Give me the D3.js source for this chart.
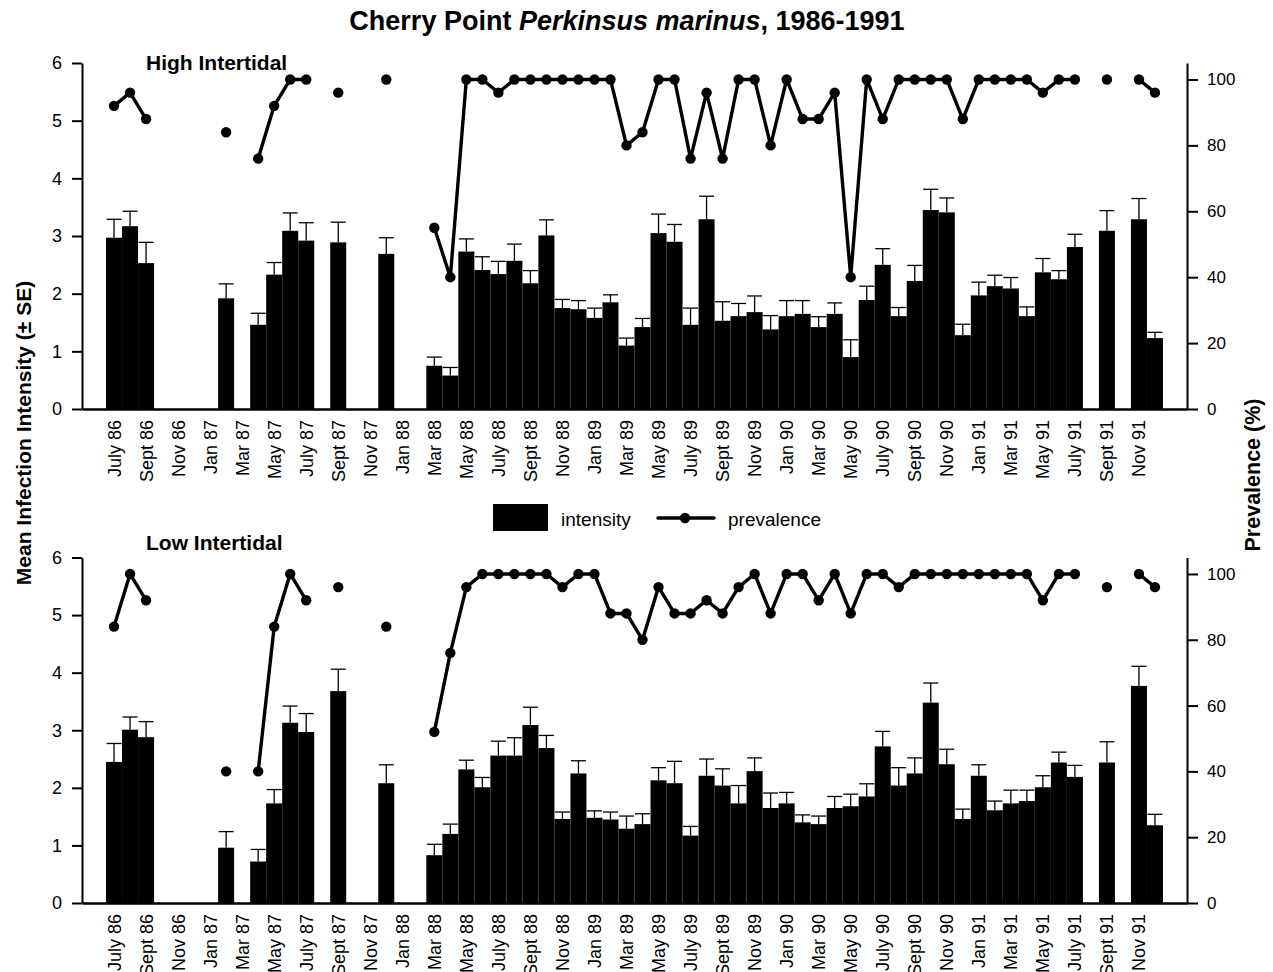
<!DOCTYPE html>
<html>
<head>
<meta charset="utf-8">
<script src="https://cdn.jsdelivr.net/npm/d3@7"></script>
<style>
  body { margin: 0; background: #fff; }
  svg { display: block; font-family: "Liberation Sans", Arial, sans-serif; }
</style>
</head>
<body>
<svg id="chart" width="1273" height="972"></svg>
<script>
// ---------- DATA ----------
const monthLabels = [
  "July 86","Aug 86","Sept 86","Oct 86","Nov 86","Dec 86",
  "Jan 87","Feb 87","Mar 87","Apr 87","May 87","June 87","July 87","Aug 87","Sept 87","Oct 87","Nov 87","Dec 87",
  "Jan 88","Feb 88","Mar 88","Apr 88","May 88","June 88","July 88","Aug 88","Sept 88","Oct 88","Nov 88","Dec 88",
  "Jan 89","Feb 89","Mar 89","Apr 89","May 89","June 89","July 89","Aug 89","Sept 89","Oct 89","Nov 89","Dec 89",
  "Jan 90","Feb 90","Mar 90","Apr 90","May 90","June 90","July 90","Aug 90","Sept 90","Oct 90","Nov 90","Dec 90",
  "Jan 91","Feb 91","Mar 91","Apr 91","May 91","June 91","July 91","Aug 91","Sept 91","Oct 91","Nov 91","Dec 91"
];
// tick labels: every second month starting July 86
const tickLabels = monthLabels.filter((d, i) => i % 2 === 0);

const N = null;
// High intertidal
const highIntensity = [
  2.97,3.17,2.53,N,N,N, N,1.92,N,1.46,2.33,3.09,2.92,N,2.89,N,N,2.69,
  N,N,0.75,0.58,2.73,2.41,2.34,2.57,2.18,3.01,1.75,1.73,
  1.58,1.85,1.10,1.42,3.05,2.90,1.46,3.29,1.53,1.61,1.68,1.38,
  1.61,1.65,1.42,1.65,0.90,1.89,2.50,1.61,2.22,3.45,3.41,1.28,
  1.97,2.13,2.09,1.61,2.37,2.25,2.81,N,3.09,N,3.29,1.23
];
const highSE = [
  0.32,0.26,0.36,N,N,N, N,0.25,N,0.20,0.21,0.31,0.31,N,0.35,N,N,0.28,
  N,N,0.15,0.14,0.22,0.23,0.22,0.29,0.22,0.27,0.15,0.15,
  0.17,0.13,0.13,0.15,0.33,0.30,0.29,0.40,0.33,0.22,0.28,0.24,
  0.27,0.23,0.18,0.19,0.30,0.24,0.28,0.15,0.27,0.36,0.25,0.19,
  0.23,0.19,0.19,0.16,0.24,0.15,0.22,N,0.35,N,0.36,0.10
];
const highPrevalence = [
  92,96,88,N,N,N, N,84,N,76,92,100,100,N,96,N,N,100,
  N,N,55,40,100,100,96,100,100,100,100,100,
  100,100,80,84,100,100,76,96,76,100,100,80,
  100,88,88,96,40,100,88,100,100,100,100,88,
  100,100,100,100,96,100,100,N,100,N,100,96
];
// Low intertidal
const lowIntensity = [
  2.45,3.01,2.88,N,N,N, N,0.96,N,0.72,1.73,3.13,2.97,N,3.68,N,N,2.08,
  N,N,0.83,1.20,2.32,2.01,2.56,2.56,3.09,2.69,1.46,2.25,
  1.48,1.45,1.29,1.37,2.13,2.08,1.17,2.21,2.04,1.73,2.29,1.65,
  1.73,1.40,1.37,1.65,1.68,1.85,2.72,2.04,2.25,3.48,2.41,1.46,
  2.21,1.61,1.73,1.77,2.01,2.44,2.19,N,2.44,N,3.77,1.35
];
const lowSE = [
  0.32,0.22,0.27,N,N,N, N,0.28,N,0.21,0.24,0.29,0.32,N,0.38,N,N,0.32,
  N,N,0.19,0.17,0.16,0.17,0.25,0.31,0.31,0.22,0.12,0.22,
  0.12,0.13,0.22,0.18,0.22,0.38,0.16,0.29,0.29,0.31,0.23,0.26,
  0.19,0.13,0.14,0.20,0.21,0.22,0.26,0.31,0.27,0.34,0.26,0.17,
  0.19,0.16,0.23,0.19,0.20,0.18,0.20,N,0.36,N,0.34,0.19
];
const lowPrevalence = [
  84,100,92,N,N,N, N,40,N,40,84,100,92,N,96,N,N,84,
  N,N,52,76,96,100,100,100,100,100,96,100,
  100,88,88,80,96,88,88,92,88,96,100,88,
  100,100,92,100,88,100,100,96,100,100,100,100,
  100,100,100,100,92,100,100,N,96,N,100,96
];
const intensityTicks = [0,1,2,3,4,5,6];
const prevalenceTicks = [0,20,40,60,80,100];

// ---------- LAYOUT ----------
const svg = d3.select("#chart");
const FONT = '"Liberation Sans", Arial, sans-serif';
const xLeft = 82, xRight = 1187;

const x = d3.scaleBand().domain(monthLabels).range([xLeft, xRight])
  .paddingInner(0).paddingOuter(1.5);

function panel(cfg) {
  const g = svg.append("g");
  const yL = d3.scaleLinear().domain([0, 6]).range([cfg.bottom, cfg.top]);
  const yR = d3.scaleLinear().domain([0, 105]).range([cfg.bottom, cfg.top]);

  const rows = monthLabels.map((m, i) => ({
    m, v: cfg.intensity[i], se: cfg.se[i], p: cfg.prev[i]
  }));
  const withBars = rows.filter(d => d.v != null);

  // bars
  g.append("g").selectAll("rect").data(withBars).join("rect")
    .attr("x", d => x(d.m))
    .attr("y", d => yL(d.v))
    .attr("width", x.bandwidth())
    .attr("height", d => yL(0) - yL(d.v))
    .attr("fill", "#000");

  // error bars
  const eb = g.append("g").attr("stroke", "#000").attr("stroke-width", 1.3);
  const capW = x.bandwidth() - 1;
  eb.selectAll("line.stem").data(withBars).join("line").attr("class", "stem")
    .attr("x1", d => x(d.m) + x.bandwidth() / 2)
    .attr("x2", d => x(d.m) + x.bandwidth() / 2)
    .attr("y1", d => yL(d.v))
    .attr("y2", d => yL(d.v + d.se));
  eb.selectAll("line.cap").data(withBars).join("line").attr("class", "cap")
    .attr("x1", d => x(d.m) + x.bandwidth() / 2 - capW / 2)
    .attr("x2", d => x(d.m) + x.bandwidth() / 2 + capW / 2)
    .attr("y1", d => yL(d.v + d.se))
    .attr("y2", d => yL(d.v + d.se));

  // prevalence line
  const line = d3.line()
    .defined(d => d.p != null)
    .x(d => x(d.m) + x.bandwidth() / 2)
    .y(d => yR(d.p));
  g.append("path").datum(rows)
    .attr("fill", "none").attr("stroke", "#000")
    .attr("stroke-width", 3.4).attr("stroke-linejoin", "round")
    .attr("d", line);
  g.append("g").selectAll("circle").data(rows.filter(d => d.p != null)).join("circle")
    .attr("cx", d => x(d.m) + x.bandwidth() / 2)
    .attr("cy", d => yR(d.p))
    .attr("r", 5.2).attr("fill", "#000");

  // left axis
  const la = g.append("g").attr("transform", `translate(${xLeft},0)`)
    .call(d3.axisLeft(yL).tickValues(intensityTicks).tickFormat(d3.format("d"))
      .tickSize(10).tickSizeOuter(0).tickPadding(10));
  la.selectAll("text").style("font-size", "18px").style("font-family", FONT).attr("fill", "#000");
  la.selectAll("line,path").attr("stroke", "#000").attr("stroke-width", 2);

  // right axis
  const ra = g.append("g").attr("transform", `translate(${xRight},0)`)
    .call(d3.axisRight(yR).tickValues(prevalenceTicks).tickFormat(d3.format("d"))
      .tickSize(11).tickSizeOuter(0).tickPadding(9));
  ra.selectAll("text").style("font-size", "17px").style("font-family", FONT).attr("fill", "#000");
  ra.selectAll("line,path").attr("stroke", "#000").attr("stroke-width", 2);

  // bottom axis
  const ba = g.append("g").attr("transform", `translate(0,${cfg.bottom})`)
    .call(d3.axisBottom(x).tickValues(tickLabels).tickSize(0).tickSizeOuter(0));
  ba.select("path").attr("stroke", "#000").attr("stroke-width", 2.5);
  ba.selectAll("text")
    .style("font-size", "18px").style("font-family", FONT).attr("fill", "#000")
    .style("text-anchor", "end")
    .attr("transform", "rotate(-90)")
    .attr("x", -11).attr("y", 0).attr("dy", "0.36em");

  // panel title
  g.append("text").attr("x", 146).attr("y", cfg.titleY)
    .style("font-family", FONT).style("font-size", "21px").style("font-weight", "bold")
    .text(cfg.title);
}

panel({ top: 63, bottom: 409, intensity: highIntensity, se: highSE, prev: highPrevalence,
        title: "High Intertidal", titleY: 70 });
panel({ top: 557.5, bottom: 903, intensity: lowIntensity, se: lowSE, prev: lowPrevalence,
        title: "Low Intertidal", titleY: 550 });

// main title
const t = svg.append("text").attr("x", 627).attr("y", 30).attr("text-anchor", "middle")
  .style("font-family", FONT).style("font-size", "27px").style("font-weight", "bold");
t.append("tspan").text("Cherry Point ");
t.append("tspan").style("font-style", "italic").text("Perkinsus marinus");
t.append("tspan").text(", 1986-1991");

// axis titles
svg.append("text")
  .attr("transform", "translate(31,433) rotate(-90)").attr("text-anchor", "middle")
  .style("font-family", FONT).style("font-size", "21px").style("font-weight", "bold")
  .text("Mean Infection Intensity (± SE)");
svg.append("text")
  .attr("transform", "translate(1260,475) rotate(-90)").attr("text-anchor", "middle")
  .style("font-family", FONT).style("font-size", "21.5px").style("font-weight", "bold")
  .text("Prevalence (%)");

// legend
const lg = svg.append("g");
lg.append("rect").attr("x", 493).attr("y", 504).attr("width", 55).attr("height", 27).attr("fill", "#000");
lg.append("text").attr("x", 561).attr("y", 526)
  .style("font-family", FONT).style("font-size", "19px").text("intensity");
lg.append("line").attr("x1", 658).attr("x2", 714).attr("y1", 518).attr("y2", 518)
  .attr("stroke", "#000").attr("stroke-width", 3.5).attr("stroke-linecap", "round");
lg.append("circle").attr("cx", 685).attr("cy", 518).attr("r", 5.2).attr("fill", "#000");
lg.append("text").attr("x", 728).attr("y", 526)
  .style("font-family", FONT).style("font-size", "19px").text("prevalence");
</script>
</body>
</html>
